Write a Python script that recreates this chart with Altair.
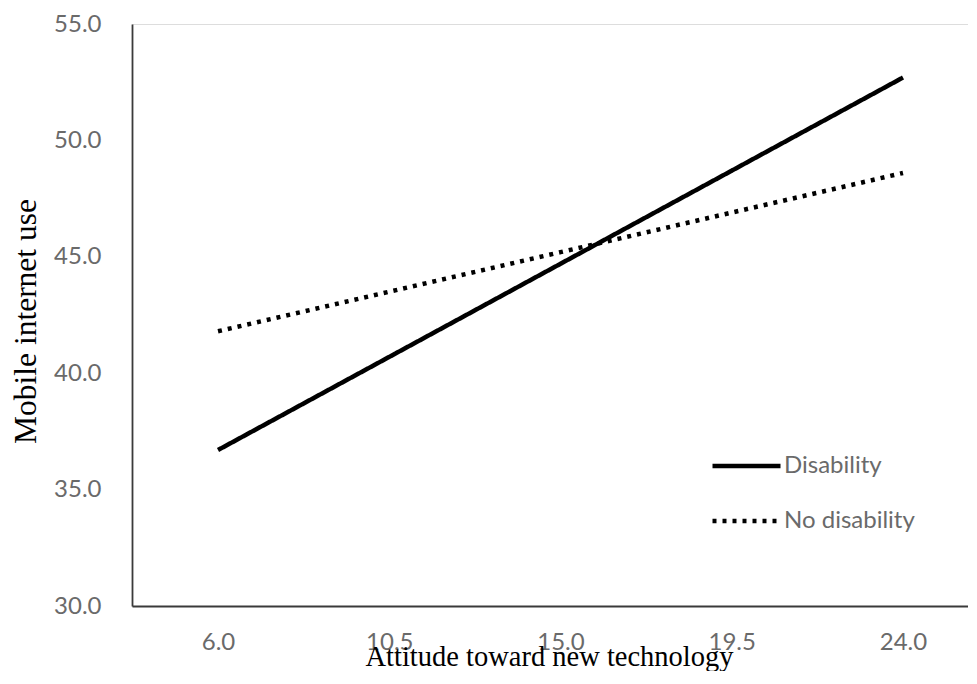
import altair as alt
import pandas as pd

attitude = [6.0, 10.5, 15.0, 19.5, 24.0]
disability = [36.7, 40.7, 44.7, 48.7, 52.7]
no_disability = [41.8, 43.5, 45.2, 46.9, 48.6]
groups = ["Disability", "No disability"]
y_ticks = [30.0, 35.0, 40.0, 45.0, 50.0, 55.0]

df = pd.DataFrame({
    "attitude": attitude * 2,
    "use": disability + no_disability,
    "group": [groups[0]] * len(attitude) + [groups[1]] * len(attitude),
})

label_color = "#6a6a6a"
axis_color = "#3a3a3a"

chart = alt.Chart(df).mark_line(color="black", strokeWidth=4.5).encode(
    x=alt.X(
        "attitude:Q",
        scale=alt.Scale(domain=[3.74, 25.708], nice=False, zero=False),
        axis=alt.Axis(
            values=attitude, format=".1f", title="Attitude toward new technology",
            ticks=False, grid=False, labelFlush=False,
            labelPadding=43, labelBaseline="alphabetic",
            labelFont="Lato", labelFontSize=24, labelColor=label_color,
            domainColor=axis_color, domainWidth=1.8,
            titleFont="Liberation Serif", titleFontSize=28.5, titleFontWeight="normal",
            titleColor="black", titleX=417, titleY=59, titleBaseline="alphabetic",
        ),
    ),
    y=alt.Y(
        "use:Q",
        scale=alt.Scale(domain=[30, 55], nice=False, zero=False),
        axis=alt.Axis(
            values=y_ticks, format=".1f", title="Mobile internet use",
            ticks=False, grid=False, labelPadding=31,
            labelFont="Lato", labelFontSize=24, labelColor=label_color,
            domainColor=axis_color, domainWidth=1.8,
            titleFont="Liberation Serif", titleFontSize=31.5, titleFontWeight="normal",
            titleColor="black", titleAngle=270, titleX=-97, titleY=297,
            titleBaseline="alphabetic", titleAlign="center",
        ),
    ),
    strokeDash=alt.StrokeDash(
        "group:N",
        scale=alt.Scale(domain=groups, range=[[1, 0], [4, 6]]),
        legend=alt.Legend(
            orient="none", legendX=578, legendY=430, title=None,
            symbolType="stroke", symbolSize=4624, symbolStrokeWidth=4.5,
            symbolStrokeColor="black",
            labelFont="Lato", labelFontSize=24, labelColor=label_color,
            labelOffset=1, clipHeight=24, rowPadding=31, padding=0,
        ),
    ),
).properties(
    width=836,
    height=582,
    autosize=alt.AutoSizeParams(type="none"),
    padding={"left": 124, "top": 16, "right": 0, "bottom": 65},
).configure_view(stroke=None).configure(background="white")

chart.save("out.html", embed_options={"renderer": "svg", "actions": False})
